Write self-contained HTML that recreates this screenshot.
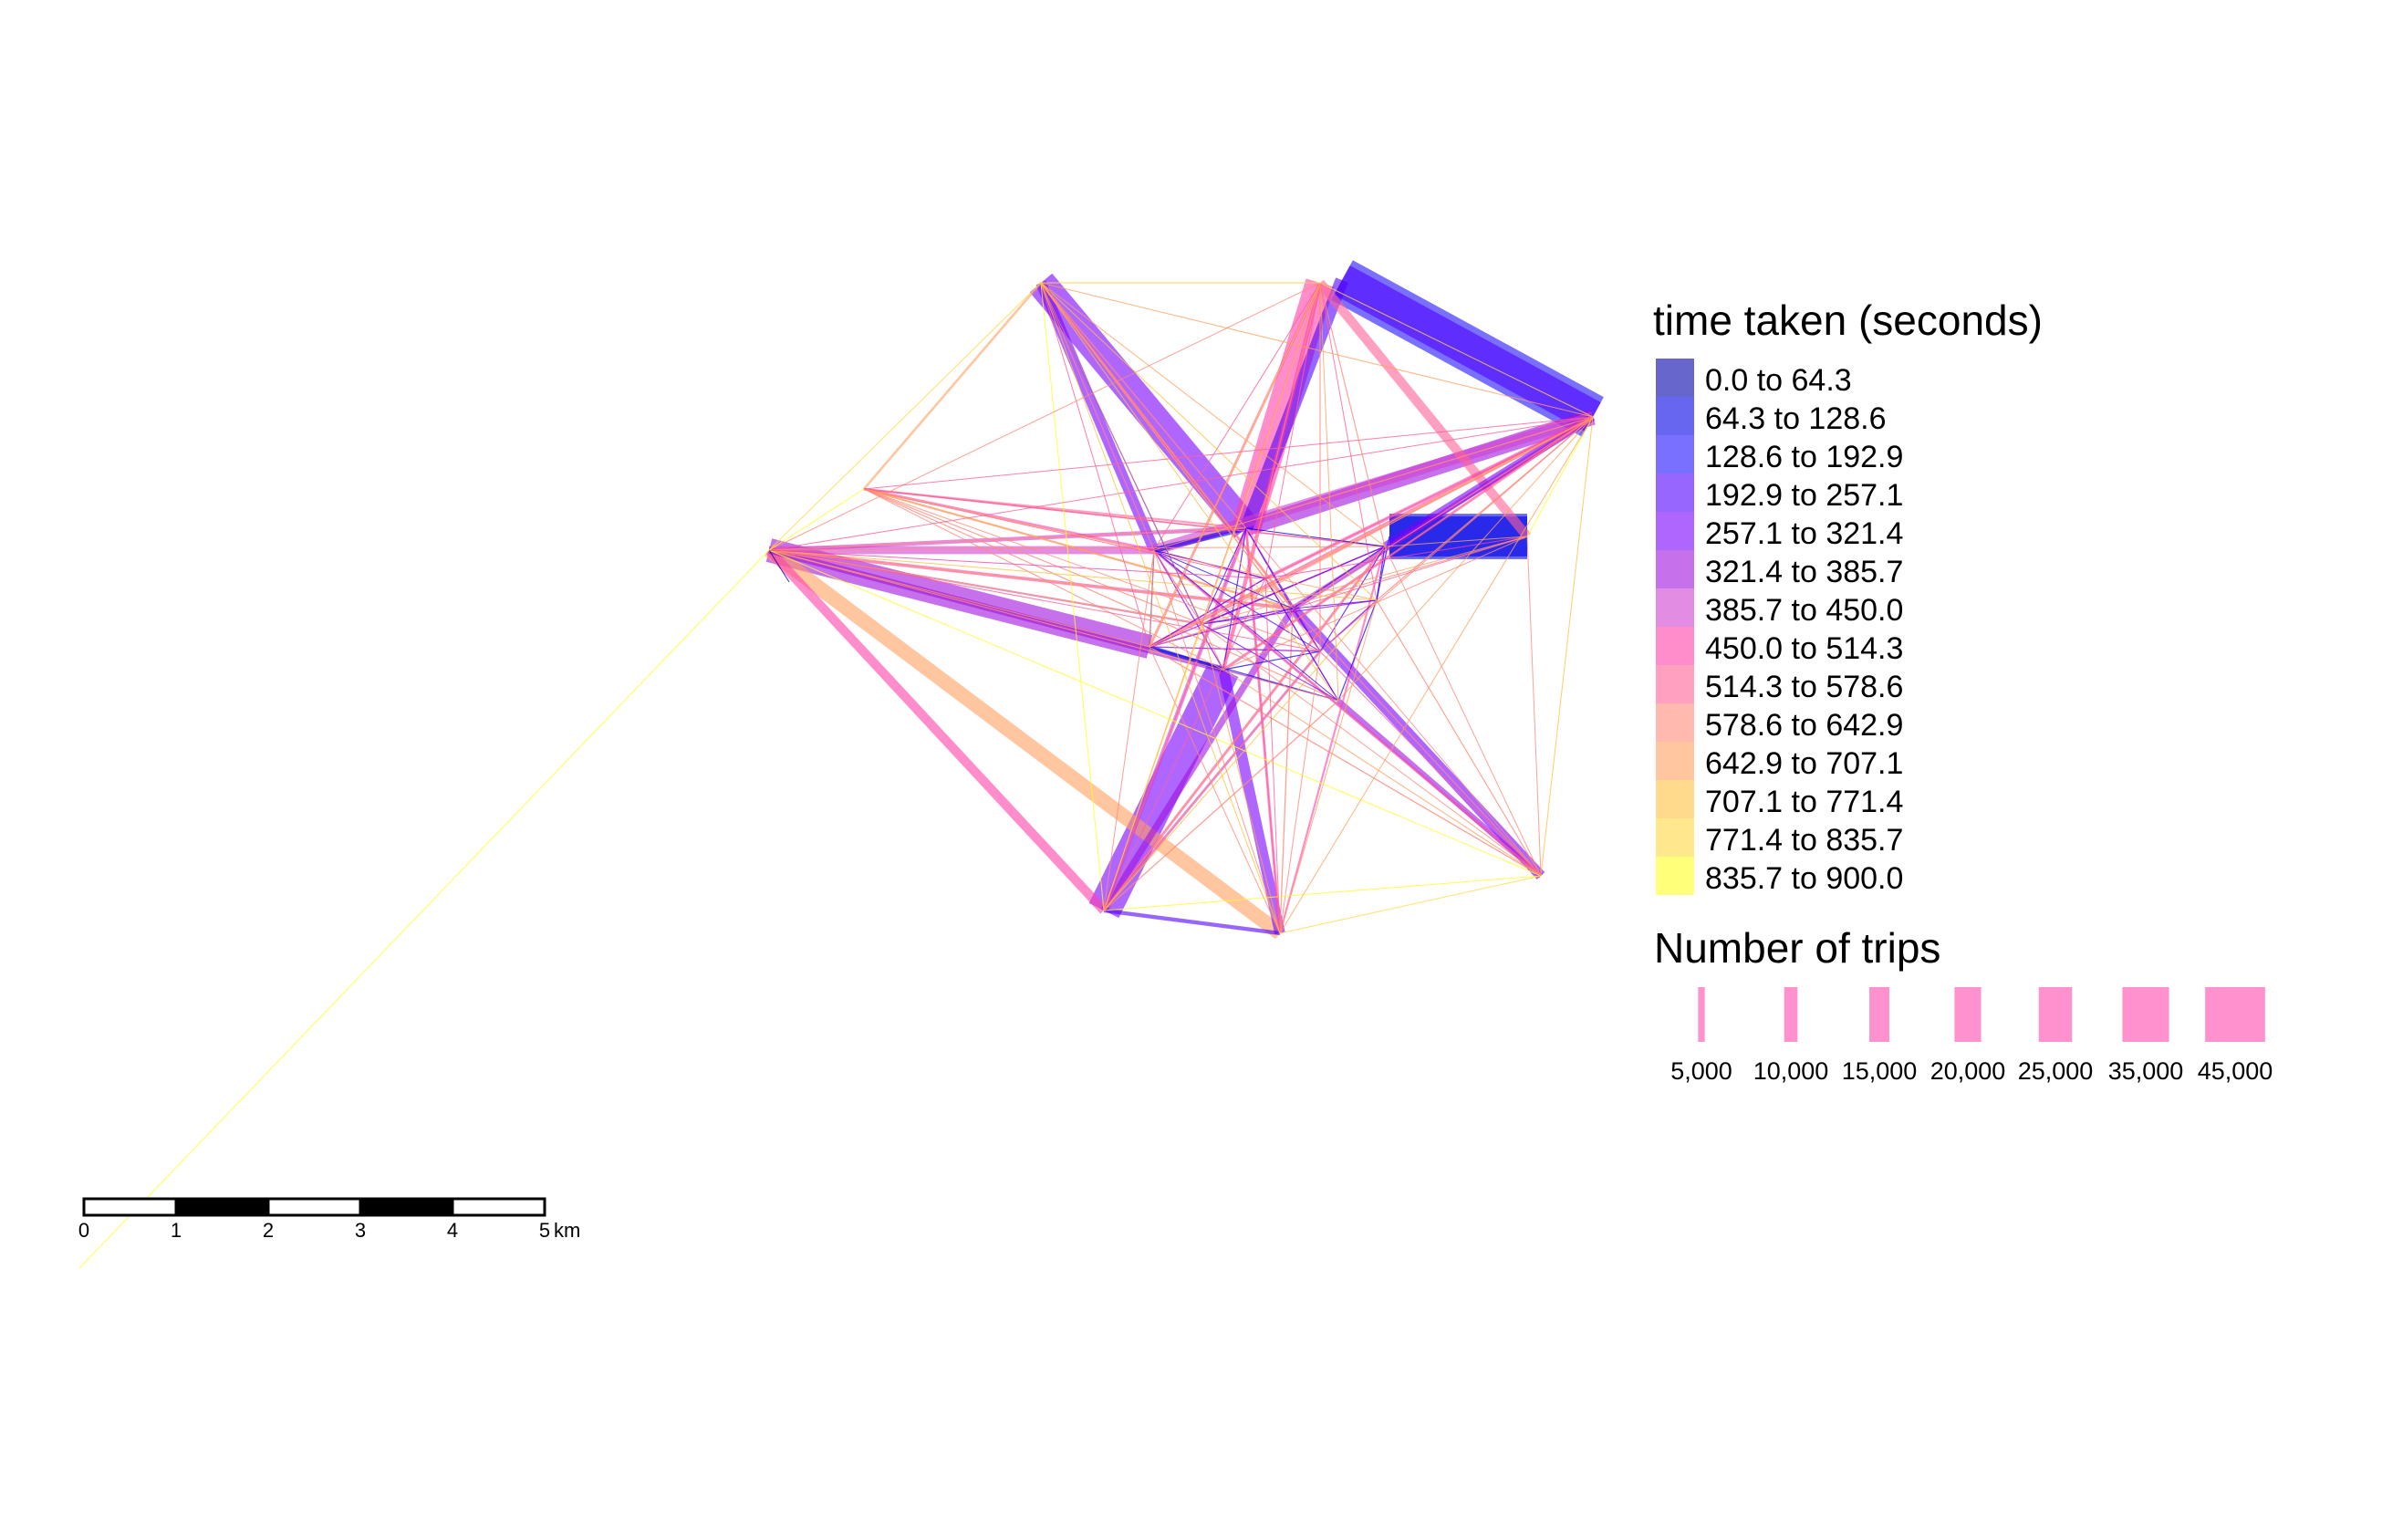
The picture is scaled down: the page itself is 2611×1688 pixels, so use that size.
<!DOCTYPE html>
<html><head><meta charset="utf-8"><style>
html,body{margin:0;padding:0;background:#fff;}
svg{display:block;font-family:"Liberation Sans",Arial,sans-serif;}
</style></head><body>
<svg id="chart" width="2611" height="1688" viewBox="0 0 2611 1688" xmlns="http://www.w3.org/2000/svg">
<rect width="2611" height="1688" fill="#fff"/>
<g id="flows" transform="translate(-13,-6)"></g>
<g id="legend-time">
<text x="1812" y="367" font-size="46" fill="#000">time taken (seconds)</text>
</g>
<g id="legend-trips">
<text x="1813" y="1055" font-size="46" fill="#000">Number of trips</text>
</g>
<g id="scalebar"></g>
</svg>
<script>
const nodeNames = ["A","B1","B2","C","D1","D2","E","E2","F","H","I","J","K","L","M","N","O","P","Q","R","Z","S","T","U"];
const nodeX = [1154,1460,1484,1759,1536,1687,856,878,960,1223,1416,1702,1278,1379,1531,1273,1354,1480,1430,1522,100,1330,1400,1460];
const nodeY = [316,316,313,463,594,594,609,644,542,1004,1029,966,609,585,605,715,740,774,673,664,1396,690,640,720];
const flowFrom = ["A","A","B1","B2","B2","C","C","C","B1","D1","E","E","E","E","E","H","H","I","J","J","H","F","F","F","K","N","E","Z","D2","C",
"E","E","C","C","C","B1","B1","H","H","F","F","A","J","I","I","E","C","H",
"A","A","A","A","A","A","A","A","B1","B1","B1","B1","B1","B1","C","C","C","C","C","C","D2","D2","D2","D2","E","E","E","E","E","E","F","F","F","F","F","H","H","H","H","H","I","I","I","I","I","J","J","J","J","J","J",
"A","A","A","A","A","B1","B1","B1","C","C","C","E","E","F","H","I","D2","C","B1",
"K","K","L","M","N","O","P","M","L","N","K","Q","L","K","N","R",
"A","A","A","B1","B1","B1","C","C","C","E","E","E","F","F","F","H","H","H","I","I","I","J","J","J","D2","D2",
"S","S","S","T","T","T","U","U","U","K","L","M","N","O","P","Q","R","S","T","U","K","M"];
const flowTo = ["L","K","L","L","C","L","K","M","D2","D2","N","K","O","H","I","O","Q","O","Q","P","I","A","K","L","L","O","E2","E","D1","B2",
"L","Q","N","Q","O","O","N","L","M","Q","M","Q","K","L","M","S","T","U",
"K","M","N","O","P","Q","R","L","K","N","O","P","R","M","N","O","P","Q","R","K","Q","O","N","M","L","M","P","Q","R","N","M","Q","O","P","R","K","L","M","P","R","K","L","N","Q","R","K","L","N","O","M","R",
"B1","C","E","I","H","C","E","H","J","D2","I","J","F","C","J","J","J","E","A",
"N","Q","Q","Q","Q","P","R","R","M","P","O","R","O","L","K","D1",
"S","T","U","S","T","U","S","T","U","S","T","U","S","T","U","S","T","U","S","T","U","S","T","U","S","T",
"K","L","M","K","N","P","K","N","M","T","U","S","T","U","S","U","S","Q","P","R","P","N"];
const flowTrips = [22000,8000,22000,10000,34000,12000,8000,6000,7000,34000,18000,6000,5000,7000,11000,25000,5000,8000,8000,4000,3000,1800,2000,1500,4000,3000,500,300,30000,25000,
3000,2500,3000,4000,2000,3000,2000,3000,2000,1500,1200,2000,2000,2000,1500,1500,2500,2000,
700,600,700,600,500,800,500,900,700,600,500,600,700,800,600,700,600,800,900,700,600,500,700,600,800,700,600,800,700,600,800,900,700,800,600,700,800,600,900,700,600,800,700,900,600,800,700,900,700,600,800,700,600,
500,500,600,500,500,600,500,500,500,600,500,400,600,500,500,600,500,500,600,
900,800,900,700,800,900,700,800,900,700,800,900,800,900,700,600,
700,600,700,800,700,600,700,800,600,700,800,700,600,700,600,800,700,600,700,600,800,700,600,700,600,700,
800,700,900,800,700,900,800,700,800,900,700,800,700,900,800,700,800,900,700,800,900,700];
const flowTime = [280,300,480,240,150,330,400,280,520,90,350,420,380,480,660,290,330,320,300,340,200,650,500,560,80,90,60,880,100,220,
450,470,460,380,500,460,520,420,500,540,560,520,420,460,480,440,470,430,
620,700,560,600,720,680,760,600,560,760,640,700,540,580,720,640,700,620,580,700,560,600,640,700,620,600,700,660,740,680,520,740,580,620,700,600,560,680,620,720,600,540,640,580,680,560,600,640,700,580,620,700,
660,800,720,850,780,600,830,760,860,700,890,880,560,850,820,640,520,820,700,
150,250,200,260,300,180,240,120,170,350,220,230,270,100,160,110,
600,700,640,560,620,700,540,600,680,500,560,620,520,600,660,540,600,700,560,640,580,620,520,660,480,560,
200,300,260,280,320,240,350,210,290,380,260,330,190,310,280,360,240,270,300,220,330,250];
const legendLabels = ["0.0 to 64.3","64.3 to 128.6","128.6 to 192.9","192.9 to 257.1","257.1 to 321.4","321.4 to 385.7","385.7 to 450.0","450.0 to 514.3","514.3 to 578.6","578.6 to 642.9","642.9 to 707.1","707.1 to 771.4","771.4 to 835.7","835.7 to 900.0"];
const binColors = ["#0000aa","#0000e6","#2010ff","#5000ff","#7a00ff","#a010e0","#d040d0","#ff40a8","#ff6098","#ff8a7a","#ffa060","#ffc040","#ffd840","#ffff20"];
const tripLegendValues = [5000,10000,15000,20000,25000,35000,45000];
const tripLegendLabels = ["5,000","10,000","15,000","20,000","25,000","35,000","45,000"];
const scaleTicks = ["0","1","2","3","4","5"];

const NS = "http://www.w3.org/2000/svg";
const binWidth = 900/14;
function colorFor(t){ return binColors[Math.min(13, Math.floor(t/binWidth))]; }
function widthFor(n){ return Math.max(1, n*0.00146); }
function nx(name){ return nodeX[nodeNames.indexOf(name)]; }
function ny(name){ return nodeY[nodeNames.indexOf(name)]; }

const flowsG = document.getElementById("flows");
const order = flowTrips.map((v,i)=>i).sort((a,b)=>flowTrips[b]-flowTrips[a]);
order.forEach(i=>{
  const l = document.createElementNS(NS,"line");
  l.setAttribute("x1", nx(flowFrom[i])); l.setAttribute("y1", ny(flowFrom[i]));
  l.setAttribute("x2", nx(flowTo[i])); l.setAttribute("y2", ny(flowTo[i]));
  l.setAttribute("stroke", colorFor(flowTime[i]));
  l.setAttribute("stroke-width", widthFor(flowTrips[i]));
  l.setAttribute("stroke-opacity", flowTrips[i] > 1000 ? 0.6 : 0.8);
  l.setAttribute("stroke-linecap","butt");
  
  
  flowsG.appendChild(l);
});

const lt = document.getElementById("legend-time");
legendLabels.forEach((lab,i)=>{
  const r = document.createElementNS(NS,"rect");
  r.setAttribute("x",1815); r.setAttribute("y",393+42*i); r.setAttribute("width",42); r.setAttribute("height",42);
  r.setAttribute("fill",binColors[i]); r.setAttribute("fill-opacity",0.6);
  
  
  lt.appendChild(r);
  const t = document.createElementNS(NS,"text");
  t.setAttribute("x",1869); t.setAttribute("y",428+42*i); t.setAttribute("font-size",34);
  t.textContent = lab;
  
  
  lt.appendChild(t);
});

const ltr = document.getElementById("legend-trips");
const tripCenters = [1865,1963,2060,2157,2253,2352,2450];
tripLegendValues.forEach((v,i)=>{
  const w = widthFor(v);
  const r = document.createElementNS(NS,"rect");
  r.setAttribute("x",tripCenters[i]-w/2); r.setAttribute("y",1082); r.setAttribute("width",w); r.setAttribute("height",60);
  r.setAttribute("fill","#ff40a8"); r.setAttribute("fill-opacity",0.57);
  
  
  ltr.appendChild(r);
  const t = document.createElementNS(NS,"text");
  t.setAttribute("x",tripCenters[i]); t.setAttribute("y",1183); t.setAttribute("font-size",27);
  t.setAttribute("text-anchor","middle");
  t.textContent = tripLegendLabels[i];
  
  
  ltr.appendChild(t);
});

const sb = document.getElementById("scalebar");
const sx0 = 92, seg = 101;
for(let k=0;k<5;k++){
  const r = document.createElementNS(NS,"rect");
  r.setAttribute("x",sx0+seg*k); r.setAttribute("y",1314); r.setAttribute("width",seg); r.setAttribute("height",18);
  r.setAttribute("fill", k%2 ? "#000" : "#fff"); r.setAttribute("stroke","#000"); r.setAttribute("stroke-width",3);
  
  
  sb.appendChild(r);
}
scaleTicks.forEach((lab,k)=>{
  const t = document.createElementNS(NS,"text");
  t.setAttribute("x",sx0+seg*k); t.setAttribute("y",1356); t.setAttribute("font-size",22);
  t.setAttribute("text-anchor","middle");
  t.textContent = lab;
  
  
  sb.appendChild(t);
});
const km = document.createElementNS(NS,"text");
km.setAttribute("x",sx0+seg*5+10); km.setAttribute("y",1356); km.setAttribute("font-size",22);
km.textContent = "km";


sb.appendChild(km);
</script>
</body></html>
